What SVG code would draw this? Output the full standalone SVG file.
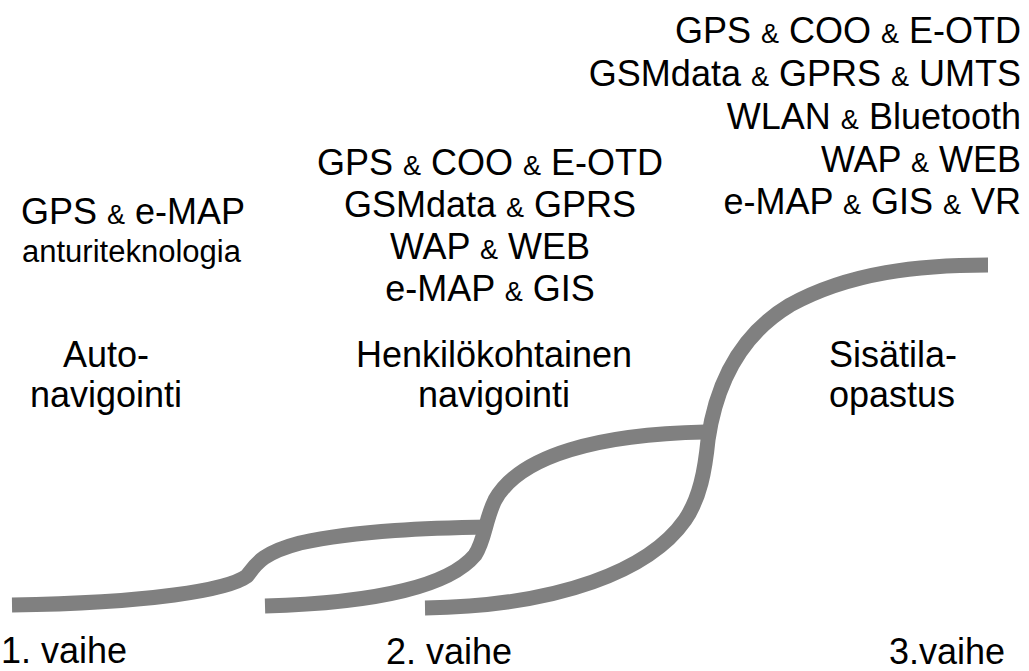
<svg xmlns="http://www.w3.org/2000/svg" width="1029" height="671" viewBox="0 0 1029 671">
  <style>
    .t { font-family: "Liberation Sans", Arial, sans-serif; font-size: 36px; fill: #000; }
    .s { font-size: 27px; }
    .sm { font-family: "Liberation Sans", Arial, sans-serif; font-size: 31px; fill: #000; }
    .c { fill: none; stroke: #808080; stroke-width: 15; stroke-linecap: butt; stroke-linejoin: round; }
  </style>
  <rect width="1029" height="671" fill="#ffffff"/>
  <g id="connectors">
    <path class="c" d="M 12,605 C 150,603 228,590 247,576 C 256,564 262,553 300,543 C 360,530 430,528 490,527"/>
    <path class="c" d="M 265,606 C 380,603 450,585 475,555 C 485,540 485,520 495,500 C 520,455 600,434 705,432"/>
    <path class="c" d="M 425,608 C 560,606 650,570 685,520 C 700,498 705,470 708,440 C 716,385 740,335 790,305 C 850,272 920,265 988,265"/>
  </g>
  <g id="tech3">
    <text class="t" x="1021" y="43" text-anchor="end">GPS <tspan class="s">&amp;</tspan> COO <tspan class="s">&amp;</tspan> E-OTD</text>
    <text class="t" x="1021" y="86" text-anchor="end">GSMdata <tspan class="s">&amp;</tspan> GPRS <tspan class="s">&amp;</tspan> UMTS</text>
    <text class="t" x="1021" y="129" text-anchor="end">WLAN <tspan class="s">&amp;</tspan> Bluetooth</text>
    <text class="t" x="1021" y="172" text-anchor="end">WAP <tspan class="s">&amp;</tspan> WEB</text>
    <text class="t" x="1021" y="214" text-anchor="end">e-MAP <tspan class="s">&amp;</tspan> GIS <tspan class="s">&amp;</tspan> VR</text>
  </g>
  <g id="tech2">
    <text class="t" x="490" y="175" text-anchor="middle">GPS <tspan class="s">&amp;</tspan> COO <tspan class="s">&amp;</tspan> E-OTD</text>
    <text class="t" x="490" y="217" text-anchor="middle">GSMdata <tspan class="s">&amp;</tspan> GPRS</text>
    <text class="t" x="490" y="259" text-anchor="middle">WAP <tspan class="s">&amp;</tspan> WEB</text>
    <text class="t" x="490" y="301" text-anchor="middle">e-MAP <tspan class="s">&amp;</tspan> GIS</text>
  </g>
  <g id="tech1">
    <text class="t" x="21" y="224">GPS <tspan class="s">&amp;</tspan> e-MAP</text>
    <text class="sm" x="22" y="262">anturiteknologia</text>
  </g>
  <g id="phase1">
    <text class="t" x="106" y="367" text-anchor="middle">Auto-</text>
    <text class="t" x="106" y="407" text-anchor="middle">navigointi</text>
    <text class="t" x="1" y="663">1. vaihe</text>
  </g>
  <g id="phase2">
    <text class="t" x="494" y="367" text-anchor="middle">Henkilökohtainen</text>
    <text class="t" x="494" y="407" text-anchor="middle">navigointi</text>
    <text class="t" x="386" y="664">2. vaihe</text>
  </g>
  <g id="phase3">
    <text class="t" x="829" y="367">Sisätila-</text>
    <text class="t" x="829" y="407">opastus</text>
    <text class="t" x="889" y="664">3.vaihe</text>
  </g>
</svg>
